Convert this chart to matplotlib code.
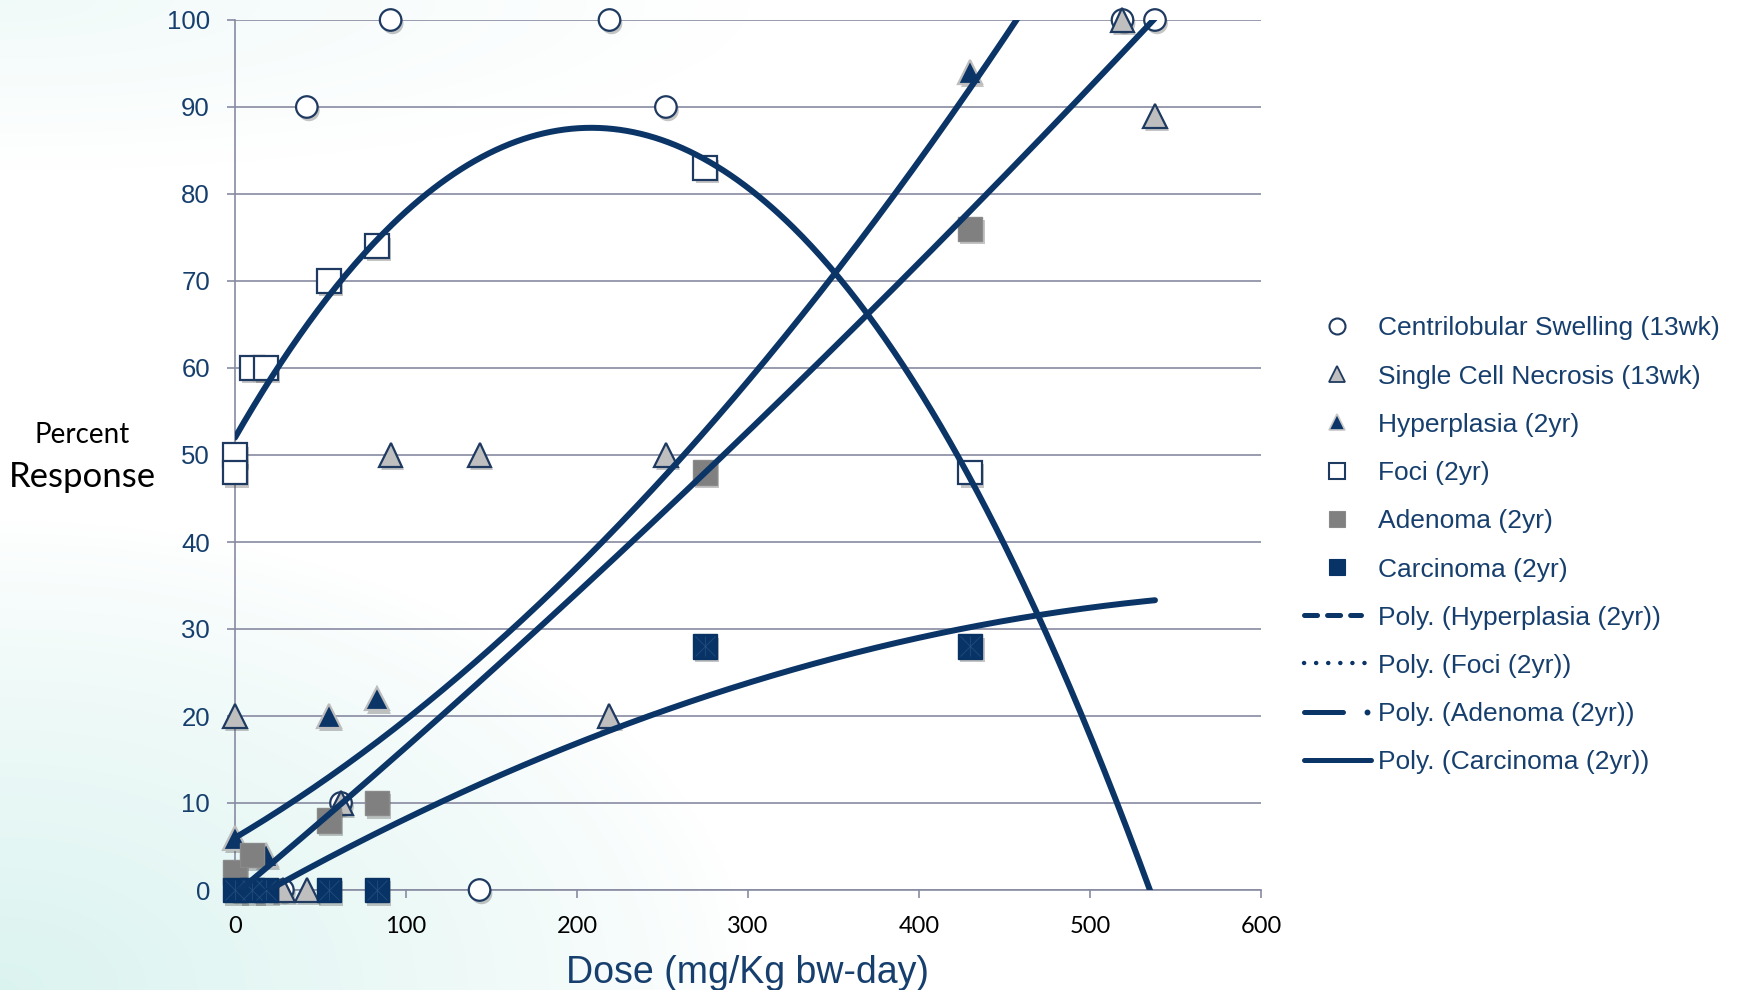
import numpy as np
import matplotlib
matplotlib.use("Agg")
import matplotlib.pyplot as plt
from matplotlib import patheffects as pe

plt.rcParams["lines.scale_dashes"] = False

W, H, DPI = 1743, 990, 100

# ---- 13-week study ----
swelling_dose = [0, 28, 42, 62, 91, 143, 219, 252, 519, 538]
swelling_pct = [0, 0, 90, 10, 100, 0, 100, 90, 100, 100]

necrosis_dose = [0, 28, 42, 62, 91, 143, 219, 252, 519, 538]
necrosis_pct = [20, 0, 0, 10, 50, 50, 20, 50, 100, 89]

# ---- 2-year study ----
hyperplasia_dose = [0, 18, 55, 83, 430]
hyperplasia_pct = [6, 4, 20, 22, 94]

foci_dose = [0, 0, 10, 18, 55, 83, 275, 430]
foci_pct = [50, 48, 60, 60, 70, 74, 83, 48]

adenoma_dose = [0, 10, 55, 83, 275, 430]
adenoma_pct = [2, 4, 8, 10, 48, 76]

carcinoma_dose = [0, 10, 18, 55, 83, 275, 430]
carcinoma_pct = [0, 0, 0, 0, 0, 28, 28]

# second-order polynomial trendlines (coefficients, highest power first)
trend_hyperplasia = [1.956e-4, 0.1163, 6.0]
trend_foci = [-8.207e-4, 0.3419, 52.0]
trend_adenoma = [4.12e-5, 0.1650, -0.5]
trend_carcinoma = [-8.68e-5, 0.1127, -2.2]
trend_dose_range = [0, 538]

x_ticks = [0, 100, 200, 300, 400, 500, 600]
y_ticks = [0, 10, 20, 30, 40, 50, 60, 70, 80, 90, 100]

legend_labels = [
    "Centrilobular Swelling (13wk)",
    "Single Cell Necrosis (13wk)",
    "Hyperplasia (2yr)",
    "Foci (2yr)",
    "Adenoma (2yr)",
    "Carcinoma (2yr)",
    "Poly. (Hyperplasia (2yr))",
    "Poly. (Foci (2yr))",
    "Poly. (Adenoma (2yr))",
    "Poly. (Carcinoma (2yr))",
]

NAVY = "#0B3567"
EDGE = "#1F3A60"
TEXT_BLUE = "#173F6E"
GRID = "#888BA1"

fig = plt.figure(figsize=(W / DPI, H / DPI), dpi=DPI)
fig.patch.set_facecolor("white")

# soft teal wash behind everything
bg = fig.add_axes([0, 0, 1, 1], zorder=-5)
yy, xx = np.mgrid[0:H, 0:W]
w1 = np.clip(1 - np.sqrt((xx / 750.0) ** 2 + ((H - yy) / 470.0) ** 2), 0, 1)
w2 = 0.4 * np.clip(1 - np.sqrt((xx / 750.0) ** 2 + (yy / 170.0) ** 2), 0, 1)
w = np.clip(w1 ** 0.8 + w2, 0, 1)
teal = np.array([0.86, 0.955, 0.94])
img = 1 - w[..., None] * (1 - teal)
bg.imshow(img, extent=[0, W, H, 0], aspect="auto")
bg.axis("off")

ax = fig.add_axes([235 / W, 100 / H, 1026 / W, 870 / H], zorder=1)
ax.set_facecolor("none")
ax.set_xlim(0, 600)
ax.set_ylim(0, 100)
ax.set_xticks(x_ticks)
ax.set_yticks(y_ticks)
ax.yaxis.grid(True, color=GRID, lw=1.2)
ax.set_axisbelow(True)
for s in ["top", "right"]:
    ax.spines[s].set_visible(False)
for s in ["left", "bottom"]:
    ax.spines[s].set_color(GRID)
    ax.spines[s].set_linewidth(1.2)
ax.tick_params(axis="y", length=6, width=1.2, color=GRID, pad=12,
               labelsize=18.5, labelcolor=TEXT_BLUE)
ax.tick_params(axis="x", length=6, width=1.2, color=GRID, pad=13,
               labelsize=17, labelcolor="black")
for lab in ax.get_yticklabels():
    lab.set_fontfamily("Liberation Sans")
for lab in ax.get_xticklabels():
    lab.set_fontfamily("Lato")

shadow = [pe.SimplePatchShadow(offset=(1.5, -2.5), shadow_rgbFace="#404040", alpha=0.3),
          pe.Normal()]

series = [
    (swelling_dose, swelling_pct, dict(marker="o", ms=15.5, mfc="white", mec=EDGE, mew=1.6)),
    (necrosis_dose, necrosis_pct, dict(marker="^", ms=17, mfc="#BFBFBF", mec=EDGE, mew=1.6)),
    (hyperplasia_dose, hyperplasia_pct, dict(marker="^", ms=17, mfc=NAVY, mec="#BDBDBD", mew=1.6)),
    (foci_dose, foci_pct, dict(marker="s", ms=17, mfc="white", mec=EDGE, mew=1.6)),
    (adenoma_dose, adenoma_pct, dict(marker="s", ms=17.5, mfc="#808080", mec="#8A8A8A", mew=1.0)),
    (carcinoma_dose, carcinoma_pct, dict(marker="s", ms=17.5, mfc="#073366", mec="#0A3262", mew=1.0)),
]
for z, (xd, yd, style) in enumerate(series):
    ax.plot(xd, yd, ls="none", clip_on=False, zorder=3 + z * 0.1,
            path_effects=shadow, **style)

# faint star pattern inside the carcinoma squares
for mk in ["x", "|"]:
    ax.plot(carcinoma_dose, carcinoma_pct, ls="none", marker=mk, ms=15, mew=0.7,
            color="#2F5688", alpha=0.6, clip_on=False, zorder=3.6)

# trendlines
xt = np.linspace(trend_dose_range[0], trend_dose_range[1], 400)
for coeffs in [trend_hyperplasia, trend_foci, trend_adenoma, trend_carcinoma]:
    ax.plot(xt, np.polyval(coeffs, xt), color=NAVY, lw=4.3,
            solid_capstyle="round", zorder=5)

# axis titles
fig.text(748 / W, 1 - 983 / H, "Dose (mg/Kg bw-day)", ha="center", va="baseline",
         fontsize=27, color=TEXT_BLUE, family="Liberation Sans")
fig.text(82 / W, 1 - 435 / H, "Percent", ha="center", va="center",
         fontsize=20, color="black", family="Lato")
fig.text(82 / W, 1 - 477 / H, "Response", ha="center", va="center",
         fontsize=25, color="black", family="Lato")

# legend drawn in pixel coordinates
lax = fig.add_axes([0, 0, 1, 1], zorder=2)
lax.set_xlim(0, W)
lax.set_ylim(H, 0)
lax.axis("off")

row0, step = 326, 48.2
mk_x = 1337
text_x = 1378
legend_markers = [
    dict(marker="o", ms=11.5, mfc="white", mec=EDGE, mew=1.5),
    dict(marker="^", ms=12, mfc="#BFBFBF", mec=EDGE, mew=1.3),
    dict(marker="^", ms=12, mfc=NAVY, mec="#C8C8C8", mew=1.2),
    dict(marker="s", ms=11.5, mfc="white", mec=EDGE, mew=1.5),
    dict(marker="s", ms=12, mfc="#808080", mec="#8A8A8A", mew=0.8),
    dict(marker="s", ms=12, mfc="#073366", mec="#073366", mew=0.8),
]
for i, lab in enumerate(legend_labels):
    yrow = row0 + i * step
    if i < 6:
        lax.plot([mk_x], [yrow], ls="none", **legend_markers[i])
    elif i == 6:
        lax.plot([1304, 1361], [yrow, yrow], color=NAVY, lw=3.6,
                 dash_capstyle="round", dashes=(9.4, 7.2))
    elif i == 7:
        lax.plot([1304, 1366], [yrow, yrow], color=NAVY, lw=3.2,
                 dash_capstyle="round", dashes=(0.1, 8.6))
    elif i == 8:
        lax.plot([1304, 1343], [yrow, yrow], color=NAVY, lw=3.6,
                 solid_capstyle="round")
        lax.plot([1367], [yrow], ls="none", marker="o", ms=3.2, color=NAVY)
    else:
        lax.plot([1304, 1371], [yrow, yrow], color=NAVY, lw=3.6,
                 solid_capstyle="round")
    lax.text(text_x, yrow + 9.5, lab, ha="left", va="baseline", fontsize=19,
             color=TEXT_BLUE, family="Liberation Sans")

fig.savefig("out.png", dpi=DPI)
